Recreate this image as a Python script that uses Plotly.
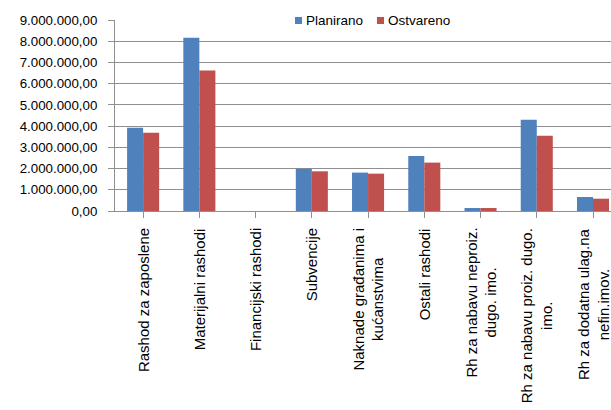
import plotly.graph_objects as go

categories = [
    "Rashod za zaposlene",
    "Materijalni rashodi",
    "Financijski rashodi",
    "Subvencije",
    "Naknade građanima i<br>kućanstvima",
    "Ostali rashodi",
    "Rh za nabavu neproiz.<br>dugo. imo.",
    "Rh za nabavu proiz. dugo.<br>imo.",
    "Rh za dodatna ulag.na<br>nefin.imov.",
]
planirano = [3920000, 8160000, 0, 1990000, 1810000, 2590000, 140000, 4300000, 660000]
ostvareno = [3690000, 6620000, 0, 1870000, 1760000, 2280000, 140000, 3550000, 580000]
series_names = ["Planirano", "Ostvareno"]
y_ticks = [0, 1000000, 2000000, 3000000, 4000000, 5000000, 6000000, 7000000, 8000000, 9000000]

FONT = "Liberation Sans"
BLUE = "#4F81BD"
RED = "#C0504D"
GRID = "#8f8f8f"
colors = [BLUE, RED]

W, H = 611, 410
ML, MR, MT, MB = 115, 0, 20, 198.5
PW, PH = W - ML - MR, H - MT - MB


def px_x(p):
    return (p - ML) / PW


def px_y(p):
    return (H - MB - p) / PH


idx = list(range(len(categories)))

fig = go.Figure()
for name, vals, col in zip(series_names, [planirano, ostvareno], colors):
    fig.add_trace(go.Bar(x=idx, y=vals, name=name, showlegend=False,
                         marker=dict(color=col, line=dict(width=0))))

for i, c in enumerate(categories):
    fig.add_annotation(x=i, y=0, xref="x", yref="paper", text=c,
                       textangle=-90, showarrow=False, yanchor="top",
                       xanchor="center", align="center", yshift=-15,
                       font=dict(family=FONT, size=15, color="#000"))

# legend drawn at the top, over the top gridline
legend_sq_left = [295, 377]
legend_text_left = [304, 386]
for name, col, sx, tx in zip(series_names, colors, legend_sq_left, legend_text_left):
    fig.add_shape(type="rect", xref="paper", yref="paper",
                  x0=px_x(sx), x1=px_x(sx + 7), y0=px_y(24), y1=px_y(17),
                  fillcolor=col, line=dict(width=0), layer="above")
    fig.add_annotation(x=px_x(tx), y=px_y(20.5), xref="paper", yref="paper",
                       text=name, showarrow=False, xanchor="left", yanchor="middle",
                       font=dict(family=FONT, size=13.5, color="#000"))

fig.update_layout(
    width=W, height=H, autosize=False,
    margin=dict(l=ML, r=MR, t=MT, b=MB),
    plot_bgcolor="white", paper_bgcolor="white",
    separators=",.",
    barmode="group", bargap=0.43, bargroupgap=0,
    font=dict(family=FONT, size=14, color="#000"),
    showlegend=False, hovermode=False,
)
fig.update_xaxes(
    range=[-0.5, 8.32], tickmode="array", tickvals=idx, ticktext=[""] * len(idx),
    showticklabels=False, tickson="boundaries", ticks="outside", ticklen=6,
    tickcolor=GRID, showline=True, linecolor=GRID, linewidth=1,
    showgrid=False, zeroline=False, fixedrange=True,
)
fig.update_yaxes(
    range=[0, 9000000], tickmode="array", tickvals=y_ticks, tickformat=",.2f",
    ticks="outside", ticklen=6, tickcolor=GRID, showline=True, linecolor=GRID,
    linewidth=1, showgrid=True, gridcolor=GRID, gridwidth=1, zeroline=False,
    fixedrange=True,
    tickfont=dict(family=FONT, size=13.3, color="#000"), ticklabelstandoff=8,
)

fig.write_html(
    "out.html",
    config={"displayModeBar": False, "staticPlot": True},
    post_script="document.body.style.margin='0';document.body.style.overflow='hidden';",
)
